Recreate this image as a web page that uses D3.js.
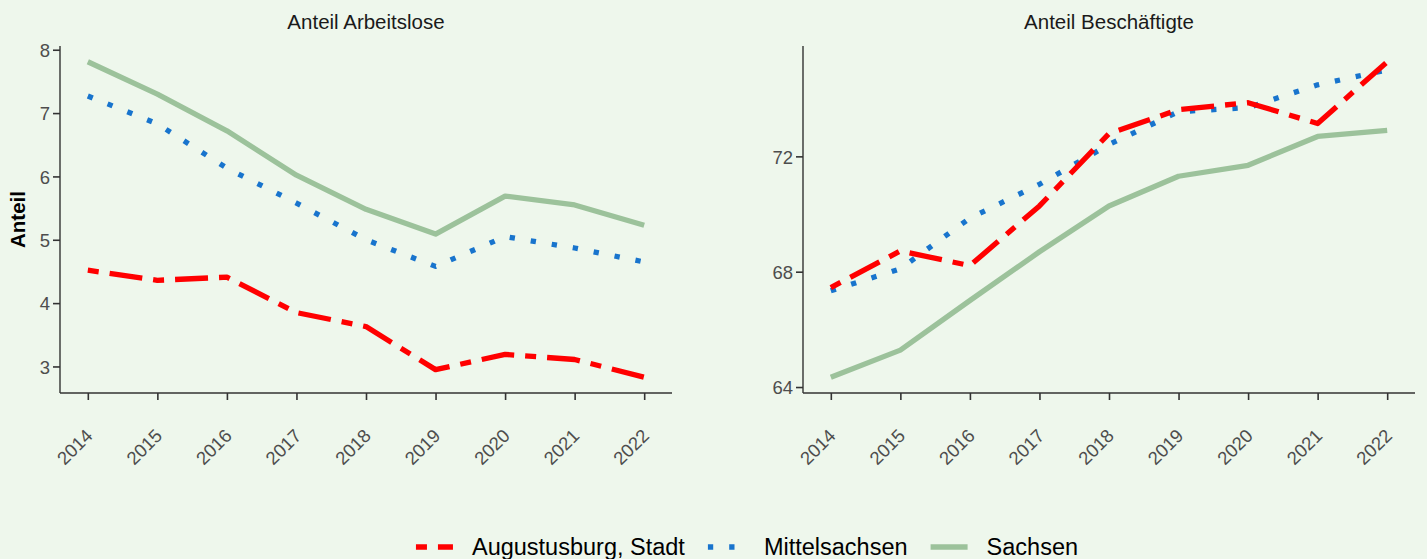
<!DOCTYPE html>
<html>
<head>
<meta charset="utf-8">
<script src="https://cdn.jsdelivr.net/npm/d3@7"></script>
<style>
  html, body { margin: 0; padding: 0; background: #EEF7EC; }
  svg { display: block; font-family: "Liberation Sans", Arial, sans-serif; }
</style>
</head>
<body>
<svg id="chart" width="1427" height="559"></svg>
<script>
// Data
const years = [2014, 2015, 2016, 2017, 2018, 2019, 2020, 2021, 2022];
const seriesNames = ["Augustusburg, Stadt", "Mittelsachsen", "Sachsen"];

const arbeitsloseAugustusburg = [4.52, 4.36, 4.41, 3.85, 3.63, 2.95, 3.19, 3.11, 2.83];
const arbeitsloseMittelsachsen = [7.27, 6.83, 6.13, 5.58, 5.00, 4.58, 5.05, 4.87, 4.65];
const arbeitsloseSachsen = [7.81, 7.30, 6.72, 6.02, 5.48, 5.09, 5.69, 5.55, 5.23];

const beschaeftigteAugustusburg = [67.45, 68.72, 68.21, 70.28, 72.79, 73.62, 73.86, 73.14, 75.28];
const beschaeftigteMittelsachsen = [67.34, 68.10, 69.86, 71.03, 72.41, 73.55, 73.69, 74.48, 75.00];
const beschaeftigteSachsen = [64.34, 65.28, 67.00, 68.69, 70.28, 71.31, 71.69, 72.69, 72.90];

const ticksLeft = [3, 4, 5, 6, 7, 8];
const ticksRight = [64, 68, 72];

// Styles per series (ggplot: twodash / dotted / solid)
const styles = {
    "Augustusburg, Stadt": { color: "#FF0000", dash: "11,11,33,11" },
    "Mittelsachsen": { color: "#1874CD", dash: "5.3,16" },
    "Sachsen": { color: "#9CC29B", dash: null }
};
const lineWidth = 5.3;

const svg = d3.select("#chart");
const plotTop = 46, plotBottom = 393;
const inkAxis = "#333333";
const inkTick = "#4D4D4D";

function drawPanel(cfg) {
    const x = d3.scaleLinear()
        .domain([2014 - 0.4, 2022 + 0.4])
        .range([cfg.x0, cfg.x1]);
    const allVals = cfg.series.flatMap(s => s.values);
    const ext = d3.extent(allVals);
    const pad = (ext[1] - ext[0]) * 0.05;
    const y = d3.scaleLinear()
        .domain([ext[0] - pad, ext[1] + pad])
        .range([plotBottom, plotTop]);

    const g = svg.append("g");

    // title
    g.append("text")
        .attr("x", (cfg.x0 + cfg.x1) / 2)
        .attr("y", 29)
        .attr("text-anchor", "middle")
        .attr("font-size", "20.5px")
        .attr("fill", "#1A1A1A")
        .text(cfg.title);

    // y axis
    const yAxis = g.append("g")
        .attr("transform", `translate(${cfg.x0},0)`)
        .call(d3.axisLeft(y).tickValues(cfg.ticks).tickSize(7).tickPadding(3).tickFormat(d3.format("d")));
    yAxis.select(".domain").attr("d", `M0,${plotTop}V${plotBottom}`);

    // x axis
    const xAxis = g.append("g")
        .attr("transform", `translate(0,${plotBottom})`)
        .call(d3.axisBottom(x).tickValues(years).tickSize(7).tickFormat(d3.format("d")));
    xAxis.select(".domain").attr("d", `M${cfg.x0},0H${cfg.x1}`);
    xAxis.selectAll(".tick text")
        .attr("text-anchor", "end")
        .attr("dy", null)
        .attr("y", 0)
        .attr("transform", "translate(5.5,44) rotate(-45)");

    [yAxis, xAxis].forEach(a => {
        a.select(".domain").attr("stroke", inkAxis).attr("stroke-width", 1.4);
        a.selectAll(".tick line").attr("stroke", inkAxis).attr("stroke-width", 1.6);
        a.selectAll(".tick text")
            .attr("fill", inkTick)
            .attr("font-size", "18.5px")
            .attr("font-family", "Liberation Sans, Arial, sans-serif");
    });
    yAxis.selectAll(".tick text").attr("dy", "0.36em");

    // lines: Sachsen first, Augustusburg on top
    const line = d3.line()
        .x((d, i) => x(years[i]))
        .y(d => y(d));

    [...cfg.series].reverse().forEach(s => {
        const st = styles[s.name];
        g.append("path")
            .datum(s.values)
            .attr("d", line)
            .attr("fill", "none")
            .attr("stroke", st.color)
            .attr("stroke-width", lineWidth)
            .attr("stroke-linejoin", "round")
            .attr("stroke-linecap", "butt")
            .attr("stroke-dasharray", st.dash);
    });
}

drawPanel({
    title: "Anteil Arbeitslose",
    x0: 60, x1: 672,
    ticks: ticksLeft,
    series: [
        { name: seriesNames[0], values: arbeitsloseAugustusburg },
        { name: seriesNames[1], values: arbeitsloseMittelsachsen },
        { name: seriesNames[2], values: arbeitsloseSachsen }
    ]
});

drawPanel({
    title: "Anteil Beschäftigte",
    x0: 803, x1: 1415,
    ticks: ticksRight,
    series: [
        { name: seriesNames[0], values: beschaeftigteAugustusburg },
        { name: seriesNames[1], values: beschaeftigteMittelsachsen },
        { name: seriesNames[2], values: beschaeftigteSachsen }
    ]
});

// y label
svg.append("text")
    .attr("transform", `translate(25,${(plotTop + plotBottom) / 2}) rotate(-90)`)
    .attr("text-anchor", "middle")
    .attr("font-size", "20.5px")
    .attr("font-weight", "bold")
    .attr("fill", "#000")
    .text("Anteil");

// legend
const keyW = 37, keyGap = 19, itemGap = 23, legendY = 547;
const legend = svg.append("g");
let cx = 0;
seriesNames.forEach(name => {
    const st = styles[name];
    const item = legend.append("g").attr("transform", `translate(${cx},0)`);
    item.append("line")
        .attr("x1", 0).attr("x2", keyW)
        .attr("y1", legendY).attr("y2", legendY)
        .attr("stroke", st.color)
        .attr("stroke-width", lineWidth)
        .attr("stroke-linecap", "butt")
        .attr("stroke-dasharray", st.dash);
    const t = item.append("text")
        .attr("x", keyW + keyGap)
        .attr("y", legendY)
        .attr("dy", "0.36em")
        .attr("font-size", "23.5px")
        .attr("fill", "#000")
        .text(name);
    cx += keyW + keyGap + t.node().getComputedTextLength() + itemGap;
});
const legendWidth = cx - itemGap;
legend.attr("transform", `translate(${747 - legendWidth / 2},0)`);
</script>
</body>
</html>
